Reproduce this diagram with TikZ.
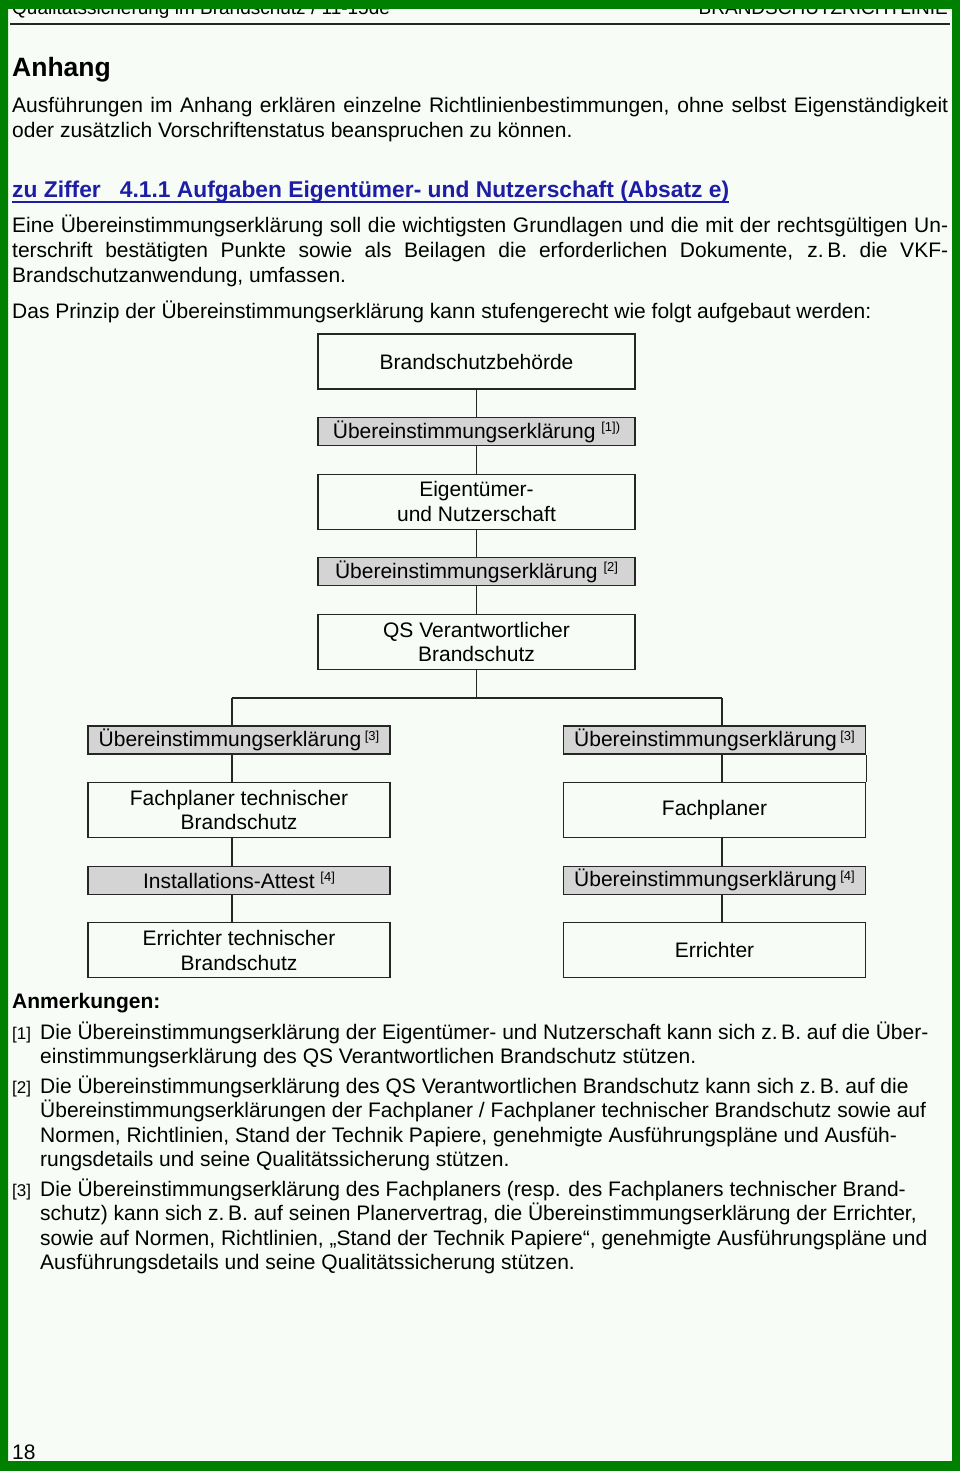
\documentclass[tikz,border=0pt]{standalone}
\usepackage{fontspec}
\setmainfont{Liberation Sans}
\usetikzlibrary{positioning}

\definecolor{pagegreen}{RGB}{0,128,0}
\definecolor{pagebg}{RGB}{247,252,247}
\definecolor{headblue}{RGB}{30,30,165}
\definecolor{certgray}{RGB}{212,212,212}

\newcommand{\bodyfont}{\fontsize{21}{24.5}\selectfont}
\newcommand{\boxfont}{\fontsize{21}{24.5}\selectfont}
\newcommand{\refmark}[1]{\raisebox{6.5pt}{\fontsize{13}{13}\selectfont#1}}
\newcommand{\jline}[1]{\makebox[936pt][s]{#1}}

\begin{document}
\begin{tikzpicture}[x=1pt, y=-1pt,
    txt/.style={anchor=base west, inner sep=0pt, font=\bodyfont},
    notelbl/.style={anchor=base west, inner sep=0pt, font=\fontsize{17}{17}\selectfont},
    orgbox/.style={draw=black!85, line width=1.1pt, fill=pagebg, minimum width=317pt, minimum height=55pt, align=center, font=\boxfont, inner sep=0pt},
    certbox/.style={orgbox, fill=certgray, minimum height=28pt},
    colbox/.style={minimum width=302pt},
    conn/.style={draw=black!85, line width=1.1pt}
]
% page
\fill[pagebg] (0,0) rectangle (960,1471);

% header
\node[txt, font=\fontsize{19}{22}\selectfont] (kopfl) at (12,15) {Qualitätssicherung im Brandschutz / 11-15de};
\node[txt, font=\fontsize{19}{22}\selectfont, anchor=base east] (kopfr) at (948,15) {BRANDSCHUTZRICHTLINIE};
\draw[black!85, line width=1.4pt] (10,24) -- (950,24);

% intro
\node[txt, font=\fontsize{26.5}{30}\selectfont\bfseries] (anhang) at (12,77) {Anhang};
\node[txt] (intro1) at (12,113) {\jline{Ausführungen im Anhang erklären einzelne Richtlinienbestimmungen, ohne selbst Eigenständigkeit}};
\node[txt] (intro2) at (12,137.5) {oder zusätzlich Vorschriftenstatus beanspruchen zu können.};

\node[txt, font=\fontsize{22.8}{26}\selectfont\bfseries, text=headblue] (ziffer) at (12,198) {zu Ziffer\hspace{19pt}4.1.1 Aufgaben Eigentümer- und Nutzerschaft (Absatz e)};
\draw[headblue, line width=1.8pt] ([yshift=-4pt]ziffer.base west) -- ([yshift=-4pt]ziffer.base east);

\node[txt] (erkl1) at (12,233) {\jline{Eine Übereinstimmungserklärung soll die wichtigsten Grundlagen und die mit der rechtsgültigen Un-}};
\node[txt] (erkl2) at (12,257.5) {\jline{terschrift bestätigten Punkte sowie als Beilagen die erforderlichen Dokumente, z.\,B. die VKF-}};
\node[txt] (erkl3) at (12,282) {Brandschutzanwendung, umfassen.};
\node[txt] (prinzip) at (12,318) {Das Prinzip der Übereinstimmungserklärung kann stufengerecht wie folgt aufgebaut werden:};

% main chain
\node[orgbox] (behoerde) at (476.5,361.5) {Brandschutzbehörde};
\node[certbox, below=27.5pt of behoerde] (ue1) {Übereinstimmungserklärung \refmark{[1])}};
\node[orgbox, below=27.5pt of ue1] (eigner) {Eigentümer-\\und Nutzerschaft};
\node[certbox, below=27.5pt of eigner] (ue2) {Übereinstimmungserklärung \refmark{[2]}};
\node[orgbox, below=27.5pt of ue2] (qs) {QS Verantwortlicher\\Brandschutz};

\draw[conn] (behoerde) -- (ue1);
\draw[conn] (ue1) -- (eigner);
\draw[conn] (eigner) -- (ue2);
\draw[conn] (ue2) -- (qs);

% branch
\coordinate (splitL) at (232,698);
\coordinate (splitR) at (722,698);
\draw[conn] (qs.south) -- (qs.south |- splitL);
\draw[conn] (splitL) -- (splitR);

% left column
\node[certbox, colbox] (lue3) at (239,740) {Übereinstimmungserklärung\,\refmark{[3]}};
\node[orgbox, colbox, below=27.5pt of lue3] (lplaner) {Fachplaner technischer\\Brandschutz};
\node[certbox, colbox, below=27.5pt of lplaner] (attest) {Installations-Attest \refmark{[4]}};
\node[orgbox, colbox, below=27.5pt of attest] (lerr) {Errichter technischer\\Brandschutz};

\draw[conn] (splitL) -- (splitL |- lue3.north);
\draw[conn] (lue3.south -| splitL) -- (lplaner.north -| splitL);
\draw[conn] (lplaner.south -| splitL) -- (attest.north -| splitL);
\draw[conn] (attest.south -| splitL) -- (lerr.north -| splitL);

% right column
\node[certbox, colbox] (rue3) at (714.5,740) {Übereinstimmungserklärung\,\refmark{[3]}};
\node[orgbox, colbox, below=27.5pt of rue3] (rplaner) {Fachplaner};
\node[certbox, colbox, below=27.5pt of rplaner] (rue4) {Übereinstimmungserklärung\,\refmark{[4]}};
\node[orgbox, colbox, below=27.5pt of rue4] (rerr) {Errichter};

\draw[conn] (splitR) -- (splitR |- rue3.north);
\draw[conn] (rue3.south -| splitR) -- (rplaner.north -| splitR);
\draw[conn] (rue3.south east) -- (rplaner.north east);
\draw[conn] (rplaner.south -| splitR) -- (rue4.north -| splitR);
\draw[conn] (rue4.south -| splitR) -- (rerr.north -| splitR);

% notes
\node[txt, font=\bodyfont\bfseries] (anm) at (12,1008) {Anmerkungen:};

\node[notelbl] (l1) at (12,1039) {[1]};
\node[txt] (n1a) at (40,1039) {Die Übereinstimmungserklärung der Eigentümer- und Nutzerschaft kann sich z.\,B. auf die Über-};
\node[txt] (n1b) at (40,1063.5) {einstimmungserklärung des QS Verantwortlichen Brandschutz stützen.};

\node[notelbl] (l2) at (12,1093) {[2]};
\node[txt] (n2a) at (40,1093) {Die Übereinstimmungserklärung des QS Verantwortlichen Brandschutz kann sich z.\,B. auf die};
\node[txt] (n2b) at (40,1117.5) {Übereinstimmungserklärungen der Fachplaner / Fachplaner technischer Brandschutz sowie auf};
\node[txt] (n2c) at (40,1142) {Normen, Richtlinien, Stand der Technik Papiere, genehmigte Ausführungspläne und Ausfüh-};
\node[txt] (n2d) at (40,1166.5) {rungsdetails und seine Qualitätssicherung stützen.};

\node[notelbl] (l3) at (12,1196) {[3]};
\node[txt] (n3a) at (40,1196) {Die Übereinstimmungserklärung des Fachplaners (resp. des Fachplaners technischer Brand-};
\node[txt] (n3b) at (40,1220.5) {schutz) kann sich z.\,B. auf seinen Planervertrag, die Übereinstimmungserklärung der Errichter,};
\node[txt] (n3c) at (40,1245) {sowie auf Normen, Richtlinien, „Stand der Technik Papiere“, genehmigte Ausführungspläne und};
\node[txt] (n3d) at (40,1269.5) {Ausführungsdetails und seine Qualitätssicherung stützen.};

% footer
\node[txt] (seite) at (12,1459) {18};

% green frame
\fill[pagegreen, even odd rule] (0,0) rectangle (960,1471) (8,9) rectangle (952,1461);
\end{tikzpicture}
\end{document}
